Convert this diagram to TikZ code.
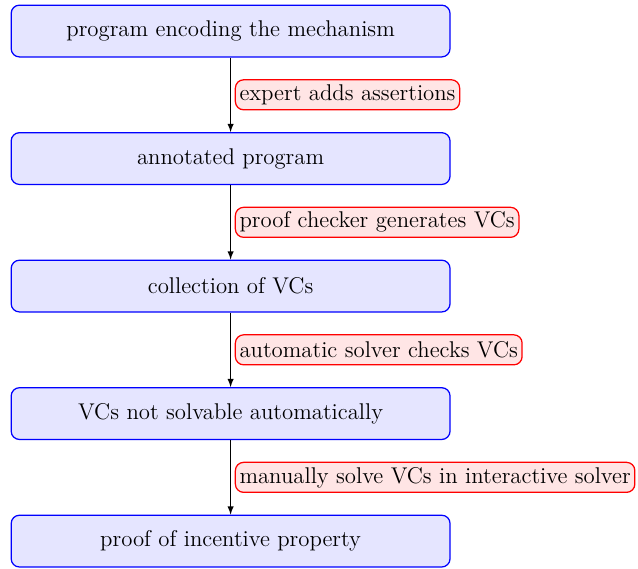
\documentclass[tikz,border=0pt]{standalone}
\usetikzlibrary{arrows, positioning}
\tikzstyle{stage} = [rectangle, rounded corners, minimum width=212pt, minimum height=25pt, text centered, draw=blue, fill=blue!10, semithick]
\tikzstyle{action} = [rectangle, rounded corners, inner sep=2pt, minimum height=14.5pt, draw=red, fill=red!10, semithick]
\tikzstyle{flow} = [->, >=latex]
\begin{document}
\begin{tikzpicture}[node distance = 36pt, font=\fontsize{11}{13}\selectfont]
\useasboundingbox (0,0) rectangle (308.2pt,-274.4pt);
\node (prog) [stage] at (111.4pt,-15pt) {program encoding the mechanism};
\node (annot) [stage, below = of prog] {annotated program};
\node (vcs) [stage, below = of annot] {collection of VCs};
\node (hard) [stage, below = of vcs] {VCs not solvable automatically};
\node (proof) [stage, below = of hard] {proof of incentive property};
\draw [flow] (prog) -- node[action, anchor=west, xshift=2pt] {expert adds assertions} (annot);
\draw [flow] (annot) -- node[action, anchor=west, xshift=2pt] {proof checker generates VCs} (vcs);
\draw [flow] (vcs) -- node[action, anchor=west, xshift=2pt] {automatic solver checks VCs} (hard);
\draw [flow] (hard) -- node[action, anchor=west, xshift=2pt] {manually solve VCs in interactive solver} (proof);
\end{tikzpicture}
\end{document}
